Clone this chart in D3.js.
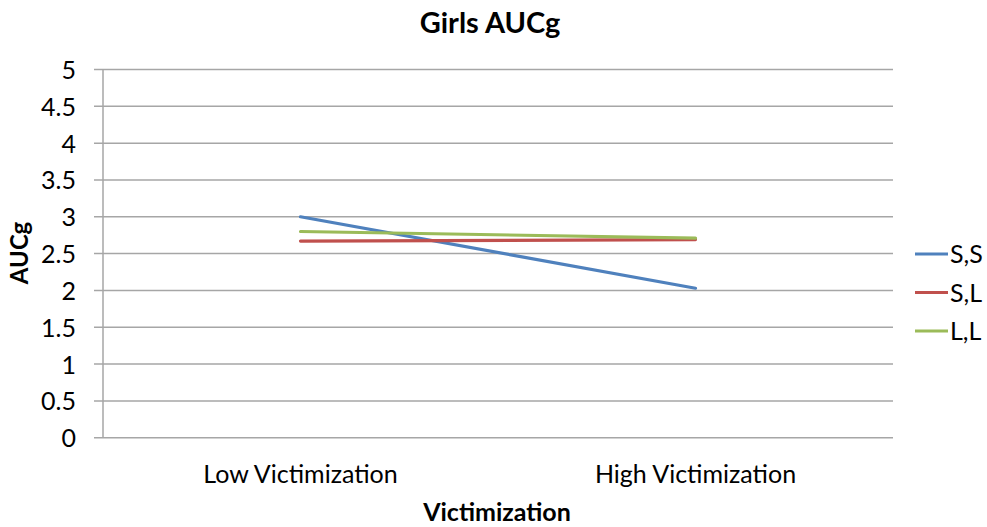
<!DOCTYPE html>
<html><head><meta charset="utf-8">
<script src="https://cdn.jsdelivr.net/npm/d3@7"></script>
<style>body{margin:0;background:#fff}svg{display:block}text{font-family:Lato,"Open Sans",sans-serif;fill:#000}</style>
</head><body>
<svg id="c" width="987" height="527"></svg>
<script>
const categories = ["Low Victimization", "High Victimization"];
const seriesNames = ["S,S", "S,L", "L,L"];
const valuesSS = [3.00, 2.03];
const valuesSL = [2.67, 2.69];
const valuesLL = [2.80, 2.71];
const yTicks = [0, 0.5, 1, 1.5, 2, 2.5, 3, 3.5, 4, 4.5, 5];
const colors = ["#4F81BD", "#C0504D", "#9BBB59"];

const series = [valuesSS, valuesSL, valuesLL].map((v, i) => ({name: seriesNames[i], values: v, color: colors[i]}));

const svg = d3.select("#c");
const m = {left: 103, right: 893, top: 69.5, bottom: 437.7};
const x = d3.scaleBand().domain(categories).range([m.left, m.right]);
const y = d3.scaleLinear().domain([0, 5]).range([m.bottom, m.top]);

// gridlines
svg.append("g").selectAll("line").data(yTicks).join("line")
  .attr("x1", m.left - 9).attr("x2", m.right)
  .attr("y1", d => y(d)).attr("y2", d => y(d))
  .attr("stroke", "#A6A6A6").attr("stroke-width", 1.5);
svg.append("line").attr("x1", m.left).attr("x2", m.left).attr("y1", m.top).attr("y2", m.bottom)
  .attr("stroke", "#A6A6A6").attr("stroke-width", 1.5);

// y axis labels
const yAxis = d3.axisLeft(y).tickValues(yTicks).tickSize(0).tickPadding(0).tickFormat(d3.format("~g"));
const yg = svg.append("g").attr("transform", `translate(${m.left - 27},0)`).call(yAxis);
yg.select(".domain").remove();
yg.selectAll("text").attr("font-size", 25).attr("font-family", "Lato").attr("fill", "#000").attr("dy", "0.36em");

// x axis labels
const xAxis = d3.axisBottom(x).tickSize(0).tickPadding(0);
const xg = svg.append("g").attr("transform", `translate(0,${m.bottom + 45})`).call(xAxis);
xg.select(".domain").remove();
xg.selectAll("text").attr("font-size", 25).attr("font-family", "Lato").attr("fill", "#000").attr("dy", "0");

// lines
const line = d3.line().x((d, i) => x(categories[i]) + x.bandwidth() / 2).y(d => y(d));
svg.append("g").selectAll("path").data(series).join("path")
  .attr("d", d => line(d.values)).attr("fill", "none")
  .attr("stroke", d => d.color).attr("stroke-width", 3.2).attr("stroke-linecap", "round");

// title & axis titles
svg.append("text").attr("x", 490).attr("y", 33).attr("text-anchor", "middle")
  .attr("font-size", 29).attr("font-weight", "bold").text("Girls AUCg");
svg.append("text").attr("x", 497).attr("y", 521).attr("text-anchor", "middle")
  .attr("font-size", 25).attr("font-weight", "bold").text("Victimization");
svg.append("text").attr("transform", "translate(28,253) rotate(-90)").attr("text-anchor", "middle")
  .attr("font-size", 24).attr("font-weight", "bold").text("AUCg");

// legend
const lg = svg.append("g").selectAll("g").data(series).join("g")
  .attr("transform", (d, i) => `translate(915,${254 + i * 38.5})`);
lg.append("line").attr("x1", 0).attr("x2", 33).attr("y1", 0).attr("y2", 0)
  .attr("stroke", d => d.color).attr("stroke-width", 3.2);
lg.append("text").attr("x", 35).attr("y", 0).attr("dy", "0.36em").attr("font-size", 25).text(d => d.name);
</script>
</body></html>
